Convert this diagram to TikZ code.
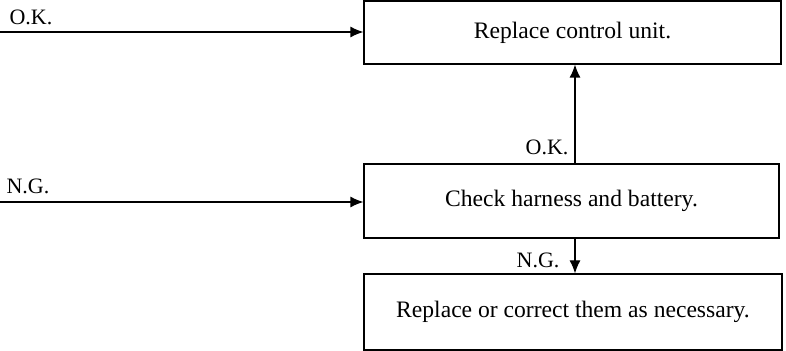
\documentclass[tikz,border=0pt]{standalone}
\usepackage{fontspec}
\setmainfont{Liberation Serif}
\usetikzlibrary{arrows.meta,calc}

\begin{document}
\begin{tikzpicture}[>={Latex[length=6.5pt,width=5.5pt]}, line width=0.6pt, x=0.5pt, y=0.5pt,
    stepbox/.style={draw, rectangle, font=\fontsize{11.8}{14}\selectfont, inner sep=0pt},
    lbl/.style={font=\fontsize{11}{13}\selectfont, inner sep=0pt}]
  \useasboundingbox (0,0) rectangle (786,-351);
  % boxes
  \node[stepbox, minimum width=208.5pt, minimum height=31.5pt] (rpl) at (572.5,-32.5) {Replace control unit.};
  \node[stepbox, minimum width=207.5pt, minimum height=37pt] (chk) at (571.5,-201) {Check harness and battery.};
  \node[stepbox, minimum width=209pt, minimum height=38pt] (fix) at (573,-312) {Replace or correct them as necessary.};
  % inputs from the left
  \coordinate (okin) at (0,-32);
  \coordinate (ngin) at (0,-202);
  \draw[->] (okin) -- (okin -| rpl.west);
  \draw[->] (ngin) -- (ngin -| chk.west);
  \node[lbl] (okl) at (31,-17) {O.K.};
  \node[lbl] (ngl) at (28,-186) {N.G.};
  % results of the check
  \draw[->] ($(chk.north)+(3.5,0)$) coordinate (up0) -- (up0 |- rpl.south);
  \draw[->] ($(chk.south)+(3.5,0)$) coordinate (dn0) -- (dn0 |- fix.north);
  \node[lbl, anchor=south east] (okup) at ($(up0)+(-6,8)$) {O.K.};
  \node[lbl, anchor=east] (ngdn) at ($(dn0)+(-15,-22)$) {N.G.};
\end{tikzpicture}
\end{document}
